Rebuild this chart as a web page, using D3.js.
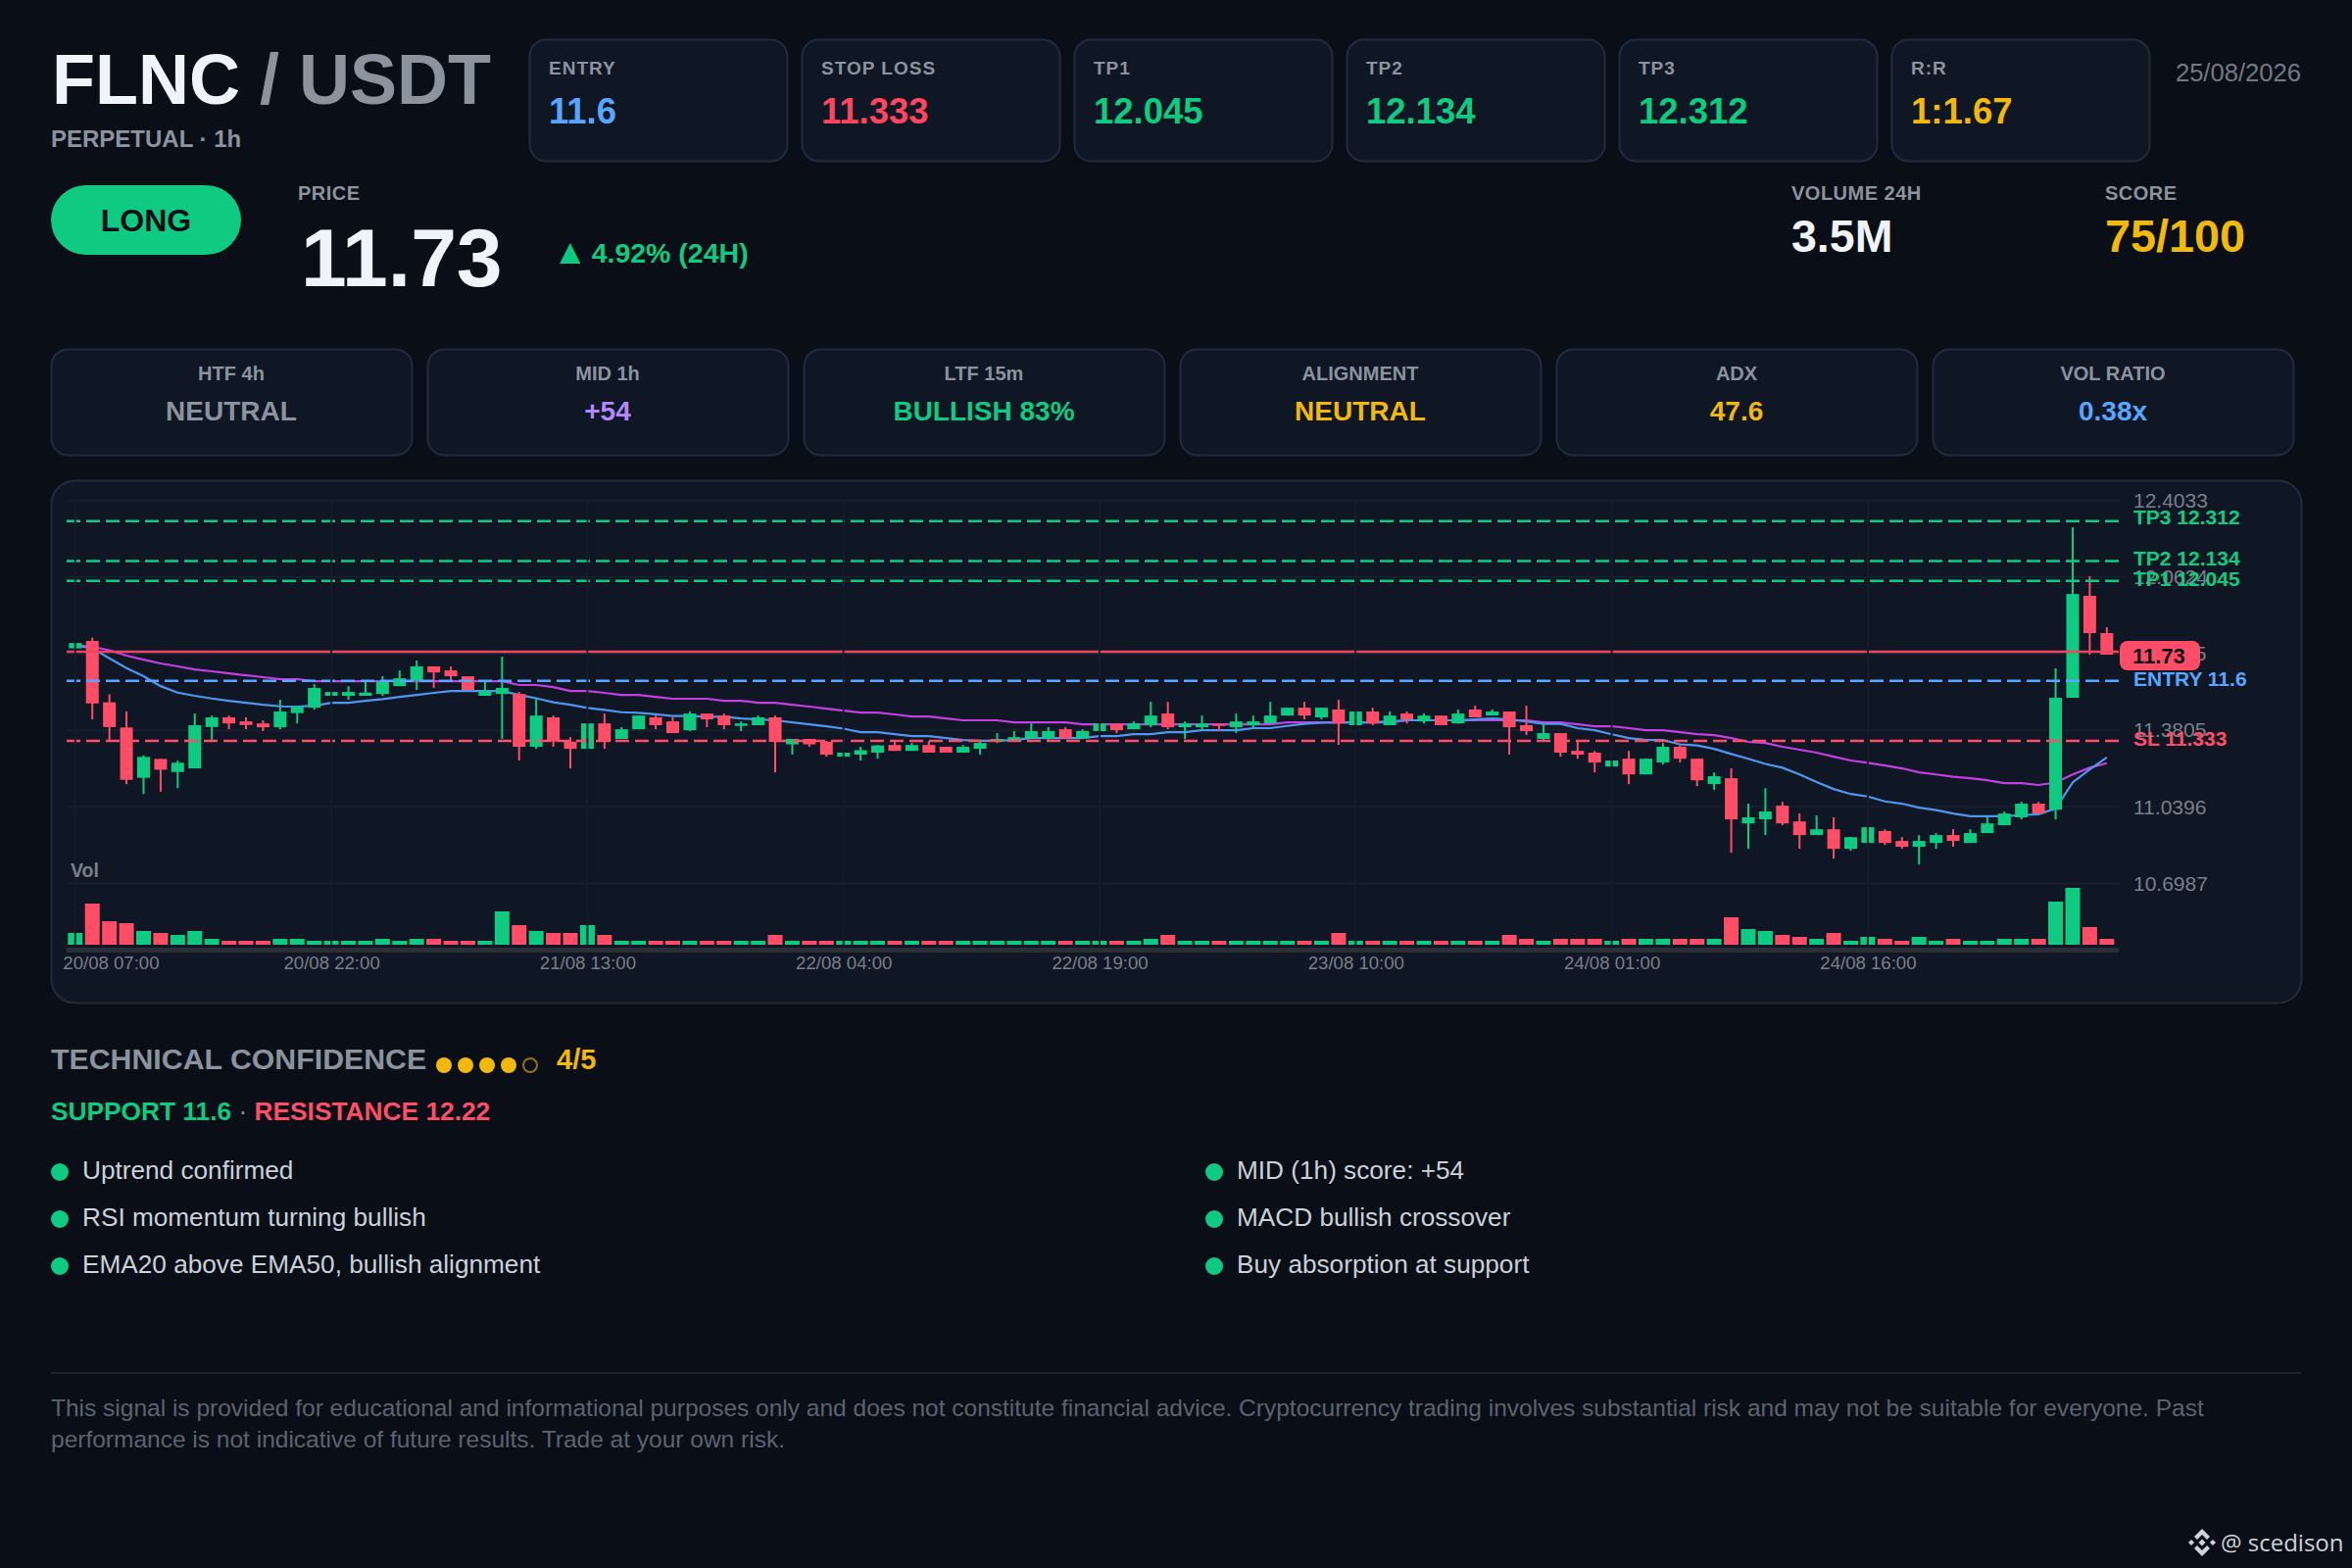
<!DOCTYPE html>
<html>
<head>
<meta charset="utf-8">
<title>FLNC / USDT signal</title>
<script src="https://cdnjs.cloudflare.com/ajax/libs/d3/7.8.5/d3.min.js"></script>
<style>
  html, body { margin: 0; padding: 0; background: #0a0e17; }
  svg { display: block; }
  text { font-family: "Liberation Sans", Arial, sans-serif; }
</style>
</head>
<body>
<svg id="card" width="2400" height="1600"></svg>
<script>
const opens = [
  11.745, 11.778, 11.505, 11.393, 11.169, 11.253, 11.195, 11.211, 11.395, 11.438,
  11.420, 11.411, 11.394, 11.457, 11.481, 11.534, 11.534, 11.534, 11.542, 11.577,
  11.603, 11.665, 11.647, 11.621, 11.534, 11.542, 11.542, 11.307, 11.438, 11.330,
  11.298, 11.411, 11.342, 11.385, 11.438, 11.420, 11.381, 11.455, 11.446, 11.400,
  11.403, 11.438, 11.318, 11.342, 11.329, 11.263, 11.272, 11.281, 11.315, 11.289,
  11.315, 11.307, 11.281, 11.298, 11.330, 11.333, 11.345, 11.345, 11.385, 11.345,
  11.377, 11.409, 11.385, 11.403, 11.455, 11.394, 11.394, 11.409, 11.394, 11.403,
  11.411, 11.446, 11.481, 11.438, 11.473, 11.403, 11.464, 11.403, 11.455, 11.420,
  11.446, 11.411, 11.473, 11.446, 11.464, 11.403, 11.342, 11.368, 11.289, 11.281,
  11.219, 11.254, 11.184, 11.237, 11.307, 11.254, 11.141, 11.167, 10.966, 10.984,
  11.045, 10.975, 10.914, 10.940, 10.853, 10.879, 10.932, 10.888, 10.862, 10.879,
  10.914, 10.879, 10.923, 10.958, 10.993, 11.054, 11.027, 11.525, 11.979, 11.813
];
const highs = [
  11.769, 11.793, 11.541, 11.464, 11.269, 11.253, 11.246, 11.455, 11.446, 11.446,
  11.438, 11.425, 11.516, 11.490, 11.586, 11.551, 11.577, 11.599, 11.621, 11.647,
  11.691, 11.665, 11.665, 11.621, 11.599, 11.708, 11.551, 11.522, 11.446, 11.350,
  11.411, 11.455, 11.394, 11.446, 11.446, 11.438, 11.464, 11.455, 11.455, 11.420,
  11.446, 11.446, 11.342, 11.342, 11.333, 11.281, 11.307, 11.315, 11.333, 11.324,
  11.333, 11.307, 11.315, 11.337, 11.368, 11.377, 11.411, 11.394, 11.394, 11.385,
  11.411, 11.411, 11.420, 11.507, 11.507, 11.420, 11.446, 11.409, 11.455, 11.446,
  11.507, 11.481, 11.507, 11.481, 11.516, 11.464, 11.481, 11.464, 11.464, 11.455,
  11.446, 11.473, 11.490, 11.473, 11.464, 11.490, 11.411, 11.368, 11.333, 11.289,
  11.246, 11.289, 11.254, 11.324, 11.315, 11.254, 11.193, 11.211, 11.054, 11.123,
  11.062, 11.010, 11.001, 10.993, 10.905, 10.949, 10.940, 10.905, 10.914, 10.923,
  10.940, 10.940, 10.993, 11.019, 11.062, 11.062, 11.656, 12.284, 12.066, 11.839
];
const lows = [
  11.745, 11.429, 11.330, 11.141, 11.097, 11.107, 11.123, 11.211, 11.330, 11.385,
  11.385, 11.377, 11.385, 11.411, 11.473, 11.534, 11.516, 11.534, 11.534, 11.577,
  11.560, 11.569, 11.599, 11.560, 11.534, 11.342, 11.246, 11.298, 11.307, 11.211,
  11.298, 11.298, 11.342, 11.385, 11.385, 11.368, 11.377, 11.394, 11.385, 11.377,
  11.403, 11.193, 11.272, 11.307, 11.263, 11.263, 11.246, 11.254, 11.289, 11.289,
  11.281, 11.281, 11.281, 11.272, 11.324, 11.333, 11.342, 11.333, 11.342, 11.345,
  11.377, 11.368, 11.385, 11.394, 11.385, 11.342, 11.377, 11.377, 11.368, 11.394,
  11.411, 11.446, 11.429, 11.429, 11.315, 11.403, 11.403, 11.403, 11.411, 11.411,
  11.403, 11.411, 11.438, 11.446, 11.272, 11.359, 11.333, 11.263, 11.254, 11.193,
  11.219, 11.141, 11.184, 11.228, 11.237, 11.132, 11.115, 10.835, 10.853, 10.914,
  10.958, 10.853, 10.914, 10.809, 10.844, 10.879, 10.870, 10.853, 10.783, 10.853,
  10.862, 10.879, 10.923, 10.958, 10.984, 11.010, 10.984, 11.525, 11.717, 11.717
];
const closes = [
  11.769, 11.500, 11.395, 11.160, 11.262, 11.205, 11.236, 11.403, 11.438, 11.411,
  11.404, 11.394, 11.464, 11.486, 11.569, 11.551, 11.551, 11.548, 11.599, 11.612,
  11.665, 11.638, 11.621, 11.560, 11.555, 11.569, 11.307, 11.446, 11.330, 11.298,
  11.411, 11.329, 11.385, 11.446, 11.403, 11.368, 11.455, 11.429, 11.403, 11.411,
  11.438, 11.329, 11.342, 11.318, 11.272, 11.281, 11.292, 11.313, 11.289, 11.315,
  11.281, 11.281, 11.307, 11.324, 11.342, 11.350, 11.377, 11.377, 11.345, 11.377,
  11.411, 11.381, 11.411, 11.446, 11.394, 11.411, 11.411, 11.400, 11.420, 11.420,
  11.446, 11.481, 11.446, 11.481, 11.411, 11.464, 11.411, 11.446, 11.429, 11.446,
  11.403, 11.455, 11.438, 11.464, 11.394, 11.377, 11.368, 11.281, 11.272, 11.237,
  11.246, 11.184, 11.254, 11.307, 11.254, 11.158, 11.176, 10.984, 10.993, 11.019,
  10.966, 10.914, 10.940, 10.853, 10.905, 10.949, 10.879, 10.862, 10.888, 10.914,
  10.888, 10.923, 10.966, 11.010, 11.054, 11.010, 11.525, 11.987, 11.813, 11.717
];
const volumes = [
  36, 126, 72, 66, 42, 36, 30, 42, 18, 12,
  12, 12, 18, 18, 12, 12, 12, 12, 18, 12,
  18, 18, 12, 12, 12, 102, 60, 42, 36, 36,
  60, 30, 12, 12, 12, 12, 12, 12, 12, 12,
  12, 30, 12, 12, 12, 12, 12, 12, 12, 12,
  12, 12, 12, 12, 12, 12, 12, 12, 12, 12,
  12, 12, 12, 18, 30, 12, 12, 12, 12, 12,
  12, 12, 12, 12, 36, 12, 12, 12, 12, 12,
  12, 12, 12, 12, 30, 18, 12, 18, 18, 18,
  12, 18, 18, 18, 18, 18, 18, 84, 48, 42,
  30, 24, 18, 36, 12, 24, 18, 12, 24, 12,
  18, 12, 12, 18, 18, 18, 132, 174, 54, 18
];
const ema20 = [
  11.759, 11.745, 11.701, 11.657, 11.621, 11.577, 11.548, 11.534, 11.522, 11.512,
  11.503, 11.494, 11.487, 11.486, 11.490, 11.503, 11.503, 11.512, 11.519, 11.529,
  11.538, 11.547, 11.555, 11.555, 11.555, 11.555, 11.538, 11.523, 11.505, 11.494,
  11.480, 11.471, 11.461, 11.458, 11.452, 11.444, 11.444, 11.441, 11.441, 11.433,
  11.429, 11.425, 11.416, 11.407, 11.398, 11.388, 11.372, 11.372, 11.363, 11.355,
  11.355, 11.346, 11.337, 11.334, 11.334, 11.337, 11.346, 11.346, 11.346, 11.346,
  11.355, 11.355, 11.363, 11.363, 11.372, 11.372, 11.381, 11.381, 11.381, 11.390,
  11.390, 11.400, 11.409, 11.414, 11.416, 11.416, 11.416, 11.420, 11.425, 11.425,
  11.425, 11.425, 11.429, 11.433, 11.429, 11.420, 11.409, 11.409, 11.390, 11.381,
  11.363, 11.346, 11.337, 11.337, 11.318, 11.313, 11.298, 11.275, 11.254, 11.231,
  11.214, 11.184, 11.150, 11.119, 11.097, 11.086, 11.064, 11.054, 11.036, 11.025,
  11.010, 10.998, 10.998, 10.998, 11.003, 11.007, 11.032, 11.148, 11.206, 11.260
];
const ema50 = [
  11.759, 11.752, 11.737, 11.713, 11.695, 11.678, 11.665, 11.651, 11.643, 11.634,
  11.625, 11.617, 11.608, 11.608, 11.599, 11.599, 11.599, 11.599, 11.599, 11.599,
  11.599, 11.599, 11.599, 11.599, 11.599, 11.599, 11.582, 11.582, 11.573, 11.555,
  11.555, 11.547, 11.538, 11.538, 11.529, 11.521, 11.521, 11.521, 11.512, 11.512,
  11.503, 11.503, 11.494, 11.486, 11.477, 11.468, 11.459, 11.459, 11.451, 11.442,
  11.442, 11.433, 11.425, 11.425, 11.425, 11.416, 11.416, 11.416, 11.416, 11.407,
  11.407, 11.407, 11.407, 11.407, 11.407, 11.407, 11.407, 11.407, 11.407, 11.407,
  11.407, 11.416, 11.416, 11.416, 11.416, 11.416, 11.416, 11.416, 11.425, 11.425,
  11.425, 11.425, 11.425, 11.425, 11.425, 11.425, 11.416, 11.416, 11.407, 11.398,
  11.398, 11.390, 11.381, 11.381, 11.372, 11.363, 11.359, 11.346, 11.329, 11.324,
  11.307, 11.294, 11.281, 11.263, 11.246, 11.236, 11.224, 11.211, 11.193, 11.184,
  11.174, 11.167, 11.158, 11.145, 11.145, 11.137, 11.148, 11.184, 11.214, 11.234
];

const timeIndex = [0, 15, 30, 45, 60, 75, 90, 105];
const timeLabels = ["20/08 07:00", "20/08 22:00", "21/08 13:00", "22/08 04:00", "22/08 19:00", "23/08 10:00", "24/08 01:00", "24/08 16:00"];
const priceTicks = [12.4033, 12.0624, 11.7215, 11.3805, 11.0396, 10.6987];

const levelNames = ["TP3", "TP2", "TP1", "ENTRY", "SL"];
const levelValues = [12.312, 12.134, 12.045, 11.6, 11.333];
const lastPrice = 11.73;

const topLabels = ["ENTRY", "STOP LOSS", "TP1", "TP2", "TP3", "R:R"];
const topValues = ["11.6", "11.333", "12.045", "12.134", "12.312", "1:1.67"];
const topColors = ["#58a6ff", "#ff4560", "#0ecb81", "#0ecb81", "#0ecb81", "#f0b90b"];

const midLabels = ["HTF 4h", "MID 1h", "LTF 15m", "ALIGNMENT", "ADX", "VOL RATIO"];
const midValues = ["NEUTRAL", "+54", "BULLISH 83%", "NEUTRAL", "47.6", "0.38x"];
const midColors = ["#8b949e", "#b388ff", "#0ecb81", "#f0b90b", "#f0b90b", "#58a6ff"];

const leftReasons = ["Uptrend confirmed", "RSI momentum turning bullish", "EMA20 above EMA50, bullish alignment"];
const rightReasons = ["MID (1h) score: +54", "MACD bullish crossover", "Buy absorption at support"];
const confidence = [1, 1, 1, 1, 0];

const disclaimer = [
  "This signal is provided for educational and informational purposes only and does not constitute financial advice. Cryptocurrency trading involves substantial risk and may not be suitable for everyone. Past",
  "performance is not indicative of future results. Trade at your own risk."
];

const GREEN = "#0ecb81", RED = "#ff4d67", BLUE = "#58a6ff", GOLD = "#f0b90b", GREY = "#8b949e";
const CARD_FILL = "#101724", CARD_LINE = "#1f2c40", CHART_TEXT = "#7a7f88";

const svg = d3.select("#card");

/** Appends one text element and returns it. */
function label(parent, x, y, str, size, fill, weight, anchor, spacing) {
  return parent.append("text")
    .attr("x", x)
    .attr("y", y)
    .attr("font-size", size)
    .attr("font-weight", weight || "normal")
    .attr("text-anchor", anchor || "start")
    .attr("letter-spacing", spacing || 0)
    .attr("fill", fill)
    .text(str);
}

function panel(x, y, w, h, r) {
  svg.append("rect")
    .attr("x", x + 0.5)
    .attr("y", y + 0.5)
    .attr("width", w)
    .attr("height", h)
    .attr("rx", r)
    .attr("fill", CARD_FILL)
    .attr("stroke", CARD_LINE)
    .attr("stroke-width", 2);
}

function drawHeader() {
  svg.append("rect").attr("width", 2400).attr("height", 1600).attr("fill", "#0a0e17");

  const title = label(svg, 53, 106, "", 72, "#f0f4f8", "bold");
  title.append("tspan").text("FLNC");
  title.append("tspan").attr("fill", GREY).text(" / USDT");
  label(svg, 52, 150, "PERPETUAL · 1h", 24, GREY, "bold");

  topLabels.forEach(function(name, i) {
    const x = 540 + i * 278;
    panel(x, 40, 263, 124, 17);
    label(svg, x + 20, 76, name, 19, GREY, "bold", "start", 1);
    label(svg, x + 20, 126, topValues[i], 36.5, topColors[i], "bold");
  });
  label(svg, 2348, 83, "25/08/2026", 25.6, "#717985", "normal", "end");

  svg.append("rect")
    .attr("x", 52).attr("y", 189).attr("width", 194).attr("height", 71).attr("rx", 35.5)
    .attr("fill", GREEN);
  label(svg, 149, 236, "LONG", 32, "#0a0e17", "bold", "middle");

  label(svg, 304, 204, "PRICE", 20, GREY, "bold", "start", 0.5);
  label(svg, 307, 292, "11.73", 84, "#f0f4f8", "bold");
  const change = label(svg, 564, 268, "", 28.5, GREEN, "bold");
  change.append("tspan").attr("font-size", 36).attr("dy", 1).text("▲");
  change.append("tspan").attr("dy", -1).attr("dx", 4).text("4.92% (24H)");

  label(svg, 1828, 204, "VOLUME 24H", 20, GREY, "bold", "start", 0.5);
  label(svg, 1828, 257, "3.5M", 46.5, "#f0f4f8", "bold");
  label(svg, 2148, 204, "SCORE", 20, GREY, "bold", "start", 0.5);
  label(svg, 2148, 257, "75/100", 46.8, GOLD, "bold");

  midLabels.forEach(function(name, i) {
    const x = 52 + i * 384;
    panel(x, 356, 368, 108, 17);
    label(svg, x + 184, 388, name, 20, GREY, "bold", "middle");
    label(svg, x + 184, 429, midValues[i], 28, midColors[i], "bold", "middle");
  });
}

function drawChart() {
  panel(52, 490, 2296, 533, 24);

  const x = d3.scaleLinear().domain([0, 119]).range([76.8, 2149.8]);
  const y = d3.scaleLinear().domain([12.4033, 10.6987]).range([510.7, 901.5]);
  const yVol = d3.scaleLinear().domain([0, 174]).range([964, 906]);
  const left = 68, right = 2162;
  const indexes = d3.range(opens.length);
  const candleColor = function(i) { return closes[i] >= opens[i] ? GREEN : RED; };

  // horizontal grid
  svg.append("g").selectAll("line")
    .data(priceTicks)
    .enter().append("line")
    .attr("x1", left).attr("x2", right)
    .attr("y1", function(d) { return y(d); })
    .attr("y2", function(d) { return y(d); })
    .attr("stroke", "#171f2c")
    .attr("stroke-width", 2);

  // volume bars
  svg.append("g").selectAll("rect")
    .data(indexes)
    .enter().append("rect")
    .attr("x", function(i) { return x(i) - 7.5; })
    .attr("width", 15)
    .attr("y", function(i) { return yVol(volumes[i]); })
    .attr("height", function(i) { return yVol(0) - yVol(volumes[i]); })
    .attr("fill", candleColor);

  // moving averages
  const line = d3.line()
    .x(function(d, i) { return x(i); })
    .y(function(d) { return y(d); });
  svg.append("path").attr("d", line(ema50)).attr("fill", "none").attr("stroke", "#c23fe0").attr("stroke-width", 2.2);
  svg.append("path").attr("d", line(ema20)).attr("fill", "none").attr("stroke", "#4f97ee").attr("stroke-width", 2.2);

  // wicks and bodies
  const candles = svg.append("g");
  candles.selectAll(".wick")
    .data(indexes)
    .enter().append("line")
    .attr("class", "wick")
    .attr("x1", function(i) { return x(i); })
    .attr("x2", function(i) { return x(i); })
    .attr("y1", function(i) { return y(highs[i]); })
    .attr("y2", function(i) { return y(lows[i]); })
    .attr("stroke", candleColor)
    .attr("stroke-width", 2);
  candles.selectAll(".body")
    .data(indexes)
    .enter().append("rect")
    .attr("class", "body")
    .attr("x", function(i) { return x(i) - 6.5; })
    .attr("width", 13)
    .attr("y", function(i) { return y(Math.max(opens[i], closes[i])); })
    .attr("height", function(i) { return Math.max(2, Math.abs(y(opens[i]) - y(closes[i]))); })
    .attr("fill", candleColor);

  // signal levels
  const levelColor = function(name) {
    return name == "ENTRY" ? BLUE : (name == "SL" ? RED : GREEN);
  };
  svg.append("g").selectAll("line")
    .data(levelNames)
    .enter().append("line")
    .attr("x1", left).attr("x2", right)
    .attr("y1", function(d, i) { return y(levelValues[i]); })
    .attr("y2", function(d, i) { return y(levelValues[i]); })
    .attr("stroke", levelColor)
    .attr("stroke-width", 2.5)
    .attr("stroke-dasharray", "14 6");

  svg.append("line")
    .attr("x1", left).attr("x2", right)
    .attr("y1", y(lastPrice)).attr("y2", y(lastPrice))
    .attr("stroke", "#ec4560")
    .attr("stroke-width", 2.4);

  // vertical grid sits on top and cuts the lines
  svg.append("g").selectAll("line")
    .data(timeIndex)
    .enter().append("line")
    .attr("x1", function(d) { return x(d); })
    .attr("x2", function(d) { return x(d); })
    .attr("y1", 512).attr("y2", 965)
    .attr("stroke", "#151d2a")
    .attr("stroke-width", 2);

  svg.append("rect")
    .attr("x", left).attr("y", 967).attr("width", right - left).attr("height", 5)
    .attr("fill", "#2a2e36");

  label(svg, 72, 895, "Vol", 19.5, CHART_TEXT, "bold");

  // time axis
  const timeAxis = svg.append("g")
    .attr("transform", "translate(0,972)")
    .call(d3.axisBottom(x)
      .tickValues(timeIndex)
      .tickSize(0)
      .tickPadding(4)
      .tickFormat(function(d, i) { return timeLabels[i]; }));
  timeAxis.select(".domain").remove();
  timeAxis.selectAll("text")
    .attr("font-family", "Liberation Sans")
    .attr("font-size", 18.6)
    .attr("fill", CHART_TEXT);
  timeAxis.select(".tick text")
    .attr("text-anchor", "start")
    .attr("dx", -13);

  // price axis
  const priceAxis = svg.append("g")
    .attr("transform", "translate(2162,0)")
    .call(d3.axisRight(y)
      .tickValues(priceTicks)
      .tickSize(0)
      .tickPadding(15)
      .tickFormat(d3.format(".4f")));
  priceAxis.select(".domain").remove();
  priceAxis.selectAll("text")
    .attr("font-family", "Liberation Sans")
    .attr("font-size", 21)
    .attr("fill", CHART_TEXT);

  // level labels over the axis
  levelNames.forEach(function(name, i) {
    const nudge = name == "TP3" ? 3 : 5;
    label(svg, 2177, y(levelValues[i]) + nudge, name + " " + levelValues[i], 21, levelColor(name), "bold");
  });

  svg.append("rect")
    .attr("x", 2163).attr("y", 654).attr("width", 82).attr("height", 30).attr("rx", 8)
    .attr("fill", RED);
  label(svg, 2176, 677, d3.format(".2f")(lastPrice), 22, "#0a0e17", "bold");
}

function drawNotes() {
  label(svg, 52, 1091, "TECHNICAL CONFIDENCE", 30.3, GREY, "bold");
  svg.append("g").selectAll("circle")
    .data(confidence)
    .enter().append("circle")
    .attr("cx", function(d, i) { return 453 + i * 22; })
    .attr("cy", 1087)
    .attr("r", function(d) { return d ? 8 : 7; })
    .attr("fill", function(d) { return d ? GOLD : "none"; })
    .attr("stroke", function(d) { return d ? "none" : "#8f7410"; })
    .attr("stroke-width", 2);
  label(svg, 568, 1091, "4/5", 29, GOLD, "bold");

  const levels = label(svg, 52, 1143, "", 26.3, GREEN, "bold");
  levels.append("tspan").text("SUPPORT 11.6");
  levels.append("tspan").attr("fill", GREY).attr("font-weight", "normal").text(" · ");
  levels.append("tspan").attr("fill", RED).text("RESISTANCE 12.22");

  [[61, 84, leftReasons], [1239, 1262, rightReasons]].forEach(function(col) {
    col[2].forEach(function(str, i) {
      svg.append("circle")
        .attr("cx", col[0])
        .attr("cy", 1196 + i * 48)
        .attr("r", 9)
        .attr("fill", GREEN);
      label(svg, col[1], 1203 + i * 48, str, 26.2, "#c9d1d9");
    });
  });

  svg.append("line")
    .attr("x1", 52).attr("x2", 2348)
    .attr("y1", 1401).attr("y2", 1401)
    .attr("stroke", "#1a2230")
    .attr("stroke-width", 2);
  disclaimer.forEach(function(str, i) {
    label(svg, 52, 1445 + i * 31.6, str, 24.5, "#5c6370");
  });
}

function drawWatermark() {
  const logo = svg.append("g")
    .attr("transform", "translate(2247,1574)")
    .attr("fill", "#cfd3da");
  const shapes = [
    "0,-14 8,-6 5,-3 0,-8 -5,-3 -8,-6",
    "0,14 8,6 5,3 0,8 -5,3 -8,6",
    "0,-3.5 3.5,0 0,3.5 -3.5,0",
    "-11,-3 -8,0 -11,3 -14,0",
    "11,-3 14,0 11,3 8,0"
  ];
  logo.selectAll("polygon").data(shapes).enter().append("polygon").attr("points", function(d) { return d; });
  label(svg, 2266, 1583, "@ scedison", 24, "#cfd3da", "normal", "start", 0)
    .style("font-family", "'Open Sans'");
}

drawHeader();
drawChart();
drawNotes();
drawWatermark();
</script>
</body>
</html>
